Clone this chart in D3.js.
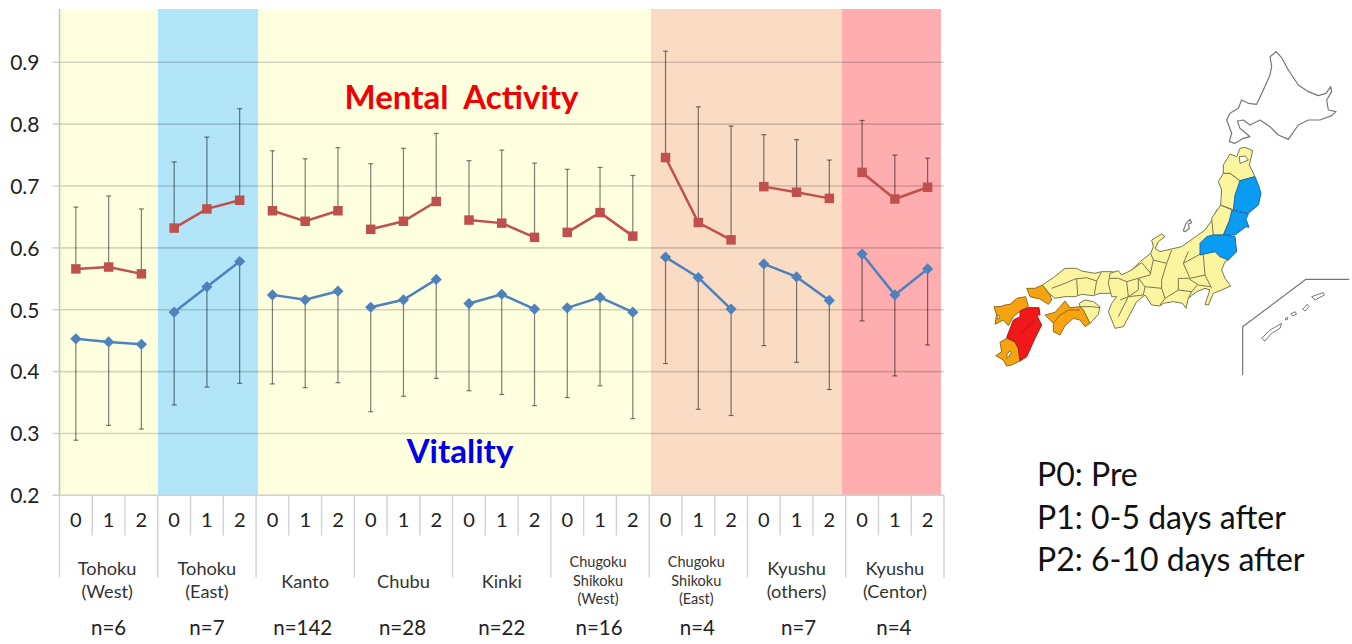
<!DOCTYPE html>
<html>
<head>
<meta charset="utf-8">
<script src="https://cdn.jsdelivr.net/npm/d3@7"></script>
<style>
  html, body { margin: 0; padding: 0; background: #fff; }
  svg { display: block; }
  text { font-family: Lato, "Open Sans", sans-serif; fill: #222; }
</style>
</head>
<body>
<svg id="chart" width="1352" height="644"></svg>
<script>
// chart data
const periods = ["0", "1", "2"];
const regions = [["Tohoku", "(West)"], ["Tohoku", "(East)"], ["Kanto"], ["Chubu"], ["Kinki"],
  ["Chugoku", "Shikoku", "(West)"], ["Chugoku", "Shikoku", "(East)"], ["Kyushu", "(others)"], ["Kyushu", "(Centor)"]];
const counts = ["n=6", "n=7", "n=142", "n=28", "n=22", "n=16", "n=4", "n=7", "n=4"];
const yTicks = [0.2, 0.3, 0.4, 0.5, 0.6, 0.7, 0.8, 0.9];

const mental = [
  [0.566, 0.569, 0.558], [0.632, 0.663, 0.677], [0.660, 0.643, 0.660],
  [0.630, 0.643, 0.675], [0.645, 0.640, 0.617], [0.625, 0.657, 0.619],
  [0.746, 0.641, 0.613], [0.699, 0.690, 0.680], [0.722, 0.679, 0.698]
];
const mentalUpper = [
  [0.666, 0.684, 0.663], [0.739, 0.779, 0.825], [0.757, 0.744, 0.762],
  [0.736, 0.761, 0.785], [0.741, 0.758, 0.737], [0.727, 0.730, 0.717],
  [0.918, 0.828, 0.797], [0.783, 0.775, 0.742], [0.806, 0.750, 0.745]
];
const vitality = [
  [0.453, 0.448, 0.444], [0.496, 0.537, 0.578], [0.524, 0.516, 0.530],
  [0.504, 0.516, 0.549], [0.510, 0.525, 0.501], [0.503, 0.520, 0.496],
  [0.585, 0.552, 0.501], [0.574, 0.553, 0.515], [0.590, 0.524, 0.566]
];
const vitalityLower = [
  [0.289, 0.313, 0.307], [0.346, 0.375, 0.381], [0.380, 0.374, 0.382],
  [0.335, 0.360, 0.389], [0.369, 0.363, 0.345], [0.358, 0.377, 0.324],
  [0.413, 0.339, 0.329], [0.442, 0.415, 0.371], [0.482, 0.393, 0.443]
];

const notes = ["P0: Pre", "P1: 0-5 days after", "P2: 6-10 days after"];

// coloured panels behind the plot
const panelEdges = [60, 158, 258, 651, 842, 941];
const panelColors = ["#feffdf", "#b2e5f8", "#feffdf", "#fadcc4", "#feaeae"];
// n= labels sit a little off centre in the original
const countNudge = [0, 0, -2.5, -1, 0, -1, -1, 2, -1];

// map outlines, traced in three times page scale; west/mid/north/hok/full say where each trace starts
const origins = { west: [985, 255], mid: [1110, 210], north: [1190, 140], hok: [1220, 45], full: [980, 40] };
const hokkaido = [[150,35],[168,20],[185,38],[205,75],[235,120],[265,140],[295,152],[318,145],[332,125],[335,140],[320,165],[325,195],[348,200],[335,212],[300,225],[265,225],[235,240],[205,283],[175,270],[150,245],[120,225],[90,240],[70,225],[52,228],[60,250],[90,275],[70,280],[45,295],[28,290],[35,265],[20,225],[30,205],[55,190],[65,165],[85,175],[110,178],[130,135],[150,90],[155,65]];
const chugoku = [[172,90],[205,68],[240,40],[275,40],[290,48],[330,55],[350,50],[380,50],[400,55],[395,80],[385,115],[345,115],[325,122],[290,118],[270,125],[240,125],[210,130],[195,118]];
const yamaguchi = [[125,100],[150,100],[172,90],[195,120],[200,135],[190,148],[165,132],[135,125]];
const kyushuNorth = [[27,155],[45,155],[60,150],[75,148],[95,130],[122,125],[130,155],[110,165],[85,185],[70,212],[55,195],[30,208],[35,180]];
const kyushuInlet = [[37,180],[45,184],[41,192],[36,190]];
const kyushuRed = [[105,168],[130,158],[162,158],[165,180],[155,180],[170,210],[150,250],[125,305],[105,318],[100,280],[90,260],[65,248],[85,195],[105,185]];
const kyushuSouth = [[45,262],[65,250],[90,262],[100,280],[105,318],[80,330],[65,333],[55,315],[32,302],[50,290]];
const kyushuBay = [[66,298],[74,288],[79,292],[71,306],[66,311]];
const shikokuSouth = [[180,180],[210,172],[240,138],[255,158],[285,155],[295,165],[315,205],[300,215],[285,195],[265,190],[240,212],[225,240],[205,230],[205,205],[195,195]];
const shikokuEast = [[283,145],[300,135],[325,140],[345,155],[340,178],[315,205],[295,165],[285,155]];
const middle = [[0,190],[25,182],[35,195],[65,180],[90,155],[122,130],[130,110],[125,90],[155,72],[165,80],[145,95],[135,115],[150,125],[180,118],[215,110],[250,85],[285,60],[310,25],[320,0],[360,0],[360,100],[355,150],[345,155],[335,180],[345,205],[362,228],[335,240],[310,250],[295,285],[285,283],[300,240],[285,235],[260,245],[235,265],[228,295],[218,280],[190,275],[160,280],[150,288],[125,285],[105,255],[80,275],[40,350],[15,355],[-5,305],[5,280],[20,260],[5,260],[-5,220]];
const sado = [[220,62],[228,40],[240,28],[245,38],[235,42],[238,55],[225,65]];
const aomori = [[120,42],[140,50],[150,25],[165,22],[188,32],[178,75],[195,110],[150,122],[120,100],[100,100],[100,75]];
const mutsuBay = [[148,50],[165,48],[175,60],[150,70]];
const akita = [[85,125],[100,100],[120,100],[150,122],[132,210],[92,195],[95,150]];
const yamagata = [[92,195],[130,212],[100,285],[70,285],[65,235]];
const iwate = [[150,122],[195,110],[205,135],[213,160],[205,195],[175,220],[130,210],[135,165]];
const miyagi = [[125,212],[175,222],[168,238],[177,262],[168,260],[135,285],[100,285],[118,245]];
const fukushima = [[50,290],[68,285],[105,285],[135,290],[140,335],[115,360],[90,350],[75,335],[30,345],[30,310]];
const islets = [
  [[995,770],[1030,758],[1033,765],[1005,780]],
  [[968,808],[982,793],[987,800],[975,813]],
  [[932,822],[945,815],[950,822],[938,828]],
  [[916,835],[922,832],[923,838],[917,840]],
  [[845,895],[870,870],[905,850],[900,865],[875,880],[855,903]]
];
const chugokuLines = [[[200,100],[240,85],[270,72],[305,68],[335,78],[350,50]], [[275,72],[278,120]], [[335,78],[328,118]]];
const middleLines = [
  [[65,180],[95,158],[122,190]], [[122,130],[130,150],[170,160],[185,120]],
  [[170,160],[155,210],[155,235],[105,230],[85,205],[120,195],[130,150]],
  [[235,125],[220,160],[240,205],[285,195],[280,135]], [[220,160],[275,130]],
  [[205,205],[235,205],[265,225],[300,230]], [[205,205],[205,240],[245,245],[262,225]],
  [[245,245],[235,265]], [[105,230],[100,255]], [[155,235],[165,265],[150,285]], [[205,240],[165,265]],
  [[285,195],[305,235]], [[50,215],[85,205],[85,240],[55,260],[50,215]],
  [[0,205],[25,205],[50,215]], [[55,260],[40,290],[25,320]], [[30,270],[55,260]], [[55,260],[100,255]]
];
const shikokuLine = [[205,205],[225,180],[250,165],[285,165]];
const shikokuEastLine = [[285,155],[320,155],[345,158]];
const redLine = [[105,235],[150,195]];
const insetFrame = [[1108,718],[978,718],[788,860],[788,1005]];

const svg = d3.select("#chart");

const bands = d3.range(periods.length * regions.length);
const x = d3.scaleBand().domain(bands).range([59.5, 944]);
const y = d3.scaleLinear().domain([0.2, 0.9]).range([495.3, 62.3]);
const plotTop = 9;
const flat = (rows) => rows.flatMap((row, g) => row.map((v, p) => ({ g: g, i: g * 3 + p, v: v })));
const cx = (d) => x(d.i) + x.bandwidth() / 2;

// background panels
svg.append("g").selectAll("rect")
  .data(panelColors)
  .join("rect")
  .attr("x", (d, i) => panelEdges[i])
  .attr("y", plotTop)
  .attr("width", (d, i) => panelEdges[i + 1] - panelEdges[i])
  .attr("height", y(0.2) - plotTop)
  .attr("fill", (d) => d);

// y axis + grid
const yAxis = d3.axisLeft(y).tickValues(yTicks).tickFormat(d3.format(".1f")).tickSize(0).tickPadding(20);
const yG = svg.append("g").attr("transform", "translate(59.5,0.6)").call(yAxis);
yG.select(".domain").remove();
yG.selectAll("text").style("font-size", "21px").style("fill", "#222");

svg.append("g").selectAll("line")
  .data(yTicks)
  .join("line")
  .attr("x1", 52.5).attr("x2", 944)
  .attr("y1", (d) => y(d)).attr("y2", (d) => y(d))
  .attr("stroke", (d) => d === 0.2 ? "#d0d0d0" : "#000")
  .attr("stroke-opacity", (d) => d === 0.2 ? 1 : 0.17)
  .attr("stroke-width", 1.6);

svg.append("line")
  .attr("x1", 59.5).attr("x2", 59.5).attr("y1", plotTop).attr("y2", y(0.2))
  .attr("stroke", "#c4c4c4").attr("stroke-width", 1.6);

// x axis, three rows under the plot
const xAxis = d3.axisBottom(x).tickFormat((i) => periods[i % 3]).tickSize(0).tickPadding(18);
const xG = svg.append("g").attr("transform", "translate(0," + y(0.2) + ")").call(xAxis);
xG.select(".domain").remove();
xG.selectAll("text").style("font-size", "20px").style("fill", "#222");

svg.append("g").selectAll("line")
  .data(d3.range(bands.length + 1))
  .join("line")
  .attr("x1", (i) => 59.5 + i * x.step()).attr("x2", (i) => 59.5 + i * x.step())
  .attr("y1", y(0.2))
  .attr("y2", (i) => i % 3 === 0 ? 577.5 : 535.5)
  .attr("stroke", "#d2d2d2").attr("stroke-width", 1.4);

const groupCenter = (g) => x(g * 3 + 1) + x.bandwidth() / 2;
const labelGroups = svg.append("g").selectAll("g")
  .data(regions)
  .join("g");
labelGroups.each(function (lines, g) {
  const three = lines.length === 3;
  const size = three ? 14.5 : 18.2;
  const step = three ? 18.8 : 23;
  const first = lines.length === 1 ? 587.7 : three ? 566.7 : 575;
  d3.select(this).selectAll("text")
    .data(lines)
    .join("text")
    .attr("x", groupCenter(g) - (three ? 2 : g === 0 ? 1.5 : 0))
    .attr("y", (d, i) => first + i * step)
    .attr("text-anchor", "middle")
    .style("font-size", size + "px")
    .style("fill", "#333")
    .text((d) => d);
});

svg.append("g").selectAll("text")
  .data(counts)
  .join("text")
  .attr("x", (d, g) => groupCenter(g) + countNudge[g])
  .attr("y", 635)
  .attr("text-anchor", "middle")
  .style("font-size", "20.5px")
  .text((d) => d);

// error bars
function drawBars(tops, ends) {
  const a = flat(tops), b = flat(ends);
  const g = svg.append("g").attr("stroke", "#000").attr("stroke-opacity", 0.5).attr("stroke-width", 1.2);
  g.selectAll(".stem").data(a).join("line").attr("class", "stem")
    .attr("x1", cx).attr("x2", cx)
    .attr("y1", (d) => y(d.v)).attr("y2", (d, i) => y(b[i].v));
  g.selectAll(".cap").data(b).join("line").attr("class", "cap")
    .attr("x1", (d) => cx(d) - 2.5).attr("x2", (d) => cx(d) + 2.5)
    .attr("y1", (d) => y(d.v)).attr("y2", (d) => y(d.v));
}
drawBars(mental, mentalUpper);
drawBars(vitality, vitalityLower);

// one short line per region, then the markers
const seriesLine = d3.line().x(cx).y((d) => y(d.v));
function drawSeries(rows, color, symbol, size) {
  const pts = flat(rows);
  const g = svg.append("g");
  g.selectAll("path.seg")
    .data(d3.groups(pts, (d) => d.g))
    .join("path")
    .attr("class", "seg")
    .attr("d", (d) => seriesLine(d[1]))
    .attr("fill", "none")
    .attr("stroke", color)
    .attr("stroke-width", 2.5);
  g.selectAll("path.mark")
    .data(pts)
    .join("path")
    .attr("class", "mark")
    .attr("d", d3.symbol().type(symbol).size(size))
    .attr("transform", (d) => "translate(" + cx(d) + "," + y(d.v) + ")")
    .attr("fill", color);
}
drawSeries(mental, "#c0504d", d3.symbolSquare, 90);
drawSeries(vitality, "#4f81bd", d3.symbolDiamond2, 80);

// series names
svg.append("text").attr("x", 461.5).attr("y", 109)
  .attr("text-anchor", "middle").style("white-space", "pre")
  .style("font-size", "33px").style("font-weight", "bold").style("fill", "#f00000")
  .text("Mental  Activity");
svg.append("text").attr("x", 460).attr("y", 463)
  .attr("text-anchor", "middle")
  .style("font-size", "33px").style("font-weight", "bold").style("fill", "#0000e6")
  .text("Vitality");

// period notes
svg.append("g").selectAll("text")
  .data(notes)
  .join("text")
  .attr("x", 1037)
  .attr("y", (d, i) => 486 + i * 42.5)
  .style("font-size", "32px")
  .style("fill", "#111")
  .text((d) => d);

// map of Japan
const traceLine = (crop, curve) => d3.line()
  .x((d) => origins[crop][0] + d[0] / 3)
  .y((d) => origins[crop][1] + d[1] / 3)
  .curve(curve);
const ring = (crop, pts) => traceLine(crop, d3.curveLinearClosed)(pts);
const open = (crop, pts) => traceLine(crop, d3.curveLinear)(pts);
const mapG = svg.append("g").attr("stroke-linejoin", "round");

const yellow = "#fbf5a0", yellowLine = "#79774f";
const orange = "#f6a30f", orangeLine = "#8f6d22";
const red = "#f01818", redEdge = "#b01818";
const blue = "#0a9bf2", blueEdge = "#1a6aa8";
const grey = "#777";

const shapes = [
  ["hok", hokkaido, "#fff", grey],
  ["west", chugoku, yellow, yellowLine],
  ["west", shikokuEast, yellow, yellowLine],
  ["mid", middle, yellow, yellowLine],
  ["mid", sado, "#fff", grey],
  ["north", yamagata, yellow, yellowLine],
  ["north", akita, yellow, yellowLine],
  ["north", aomori, yellow, yellowLine],
  ["north", mutsuBay, "#fff", yellowLine],
  ["west", yamaguchi, orange, orangeLine],
  ["west", shikokuSouth, orange, orangeLine],
  ["west", kyushuNorth, orange, orangeLine],
  ["west", kyushuInlet, "#fff", orangeLine],
  ["west", kyushuSouth, orange, orangeLine],
  ["west", kyushuBay, "#fff", orangeLine],
  ["west", kyushuRed, red, redEdge],
  ["north", iwate, blue, blueEdge],
  ["north", miyagi, blue, blueEdge],
  ["north", fukushima, blue, blueEdge]
];
mapG.selectAll("path.land")
  .data(shapes)
  .join("path")
  .attr("class", "land")
  .attr("d", (d) => ring(d[0], d[1]))
  .attr("fill", (d) => d[2])
  .attr("stroke", (d) => d[3])
  .attr("stroke-width", (d) => d[3] === grey ? 1.2 : 1);

const inner = [
  ...chugokuLines.map((l) => ["west", l, yellowLine]),
  ...middleLines.map((l) => ["mid", l, yellowLine]),
  ["west", shikokuEastLine, yellowLine],
  ["west", shikokuLine, orangeLine],
  ["west", redLine, redEdge]
];
mapG.selectAll("path.pref")
  .data(inner)
  .join("path")
  .attr("class", "pref")
  .attr("d", (d) => open(d[0], d[1]))
  .attr("fill", "none")
  .attr("stroke", (d) => d[2])
  .attr("stroke-width", 1);

mapG.selectAll("path.islet")
  .data(islets)
  .join("path")
  .attr("class", "islet")
  .attr("d", (d) => ring("full", d))
  .attr("fill", "#fff")
  .attr("stroke", grey);

mapG.append("path")
  .attr("d", open("full", insetFrame))
  .attr("fill", "none")
  .attr("stroke", grey)
  .attr("stroke-width", 1.2);
</script>
</body>
</html>
